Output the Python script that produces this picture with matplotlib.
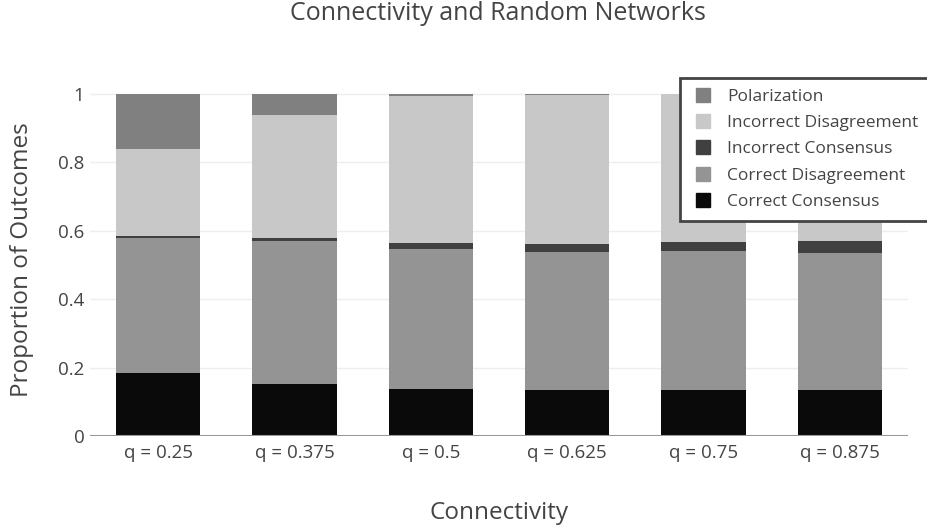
import matplotlib.pyplot as plt
from matplotlib.lines import Line2D
import numpy as np

categories = ["q = 0.25", "q = 0.375", "q = 0.5", "q = 0.625", "q = 0.75", "q = 0.875"]
correct_consensus = [0.185, 0.151, 0.138, 0.134, 0.134, 0.134]
correct_disagreement = [0.395, 0.419, 0.409, 0.405, 0.406, 0.400]
incorrect_consensus = [0.004, 0.008, 0.017, 0.021, 0.027, 0.036]
incorrect_disagreement = [0.256, 0.362, 0.429, 0.438, 0.433, 0.430]
polarization = [0.160, 0.060, 0.007, 0.002, 0.000, 0.000]

series = [
    ("Correct Consensus", correct_consensus, "#0a0a0a"),
    ("Correct Disagreement", correct_disagreement, "#949494"),
    ("Incorrect Consensus", incorrect_consensus, "#404040"),
    ("Incorrect Disagreement", incorrect_disagreement, "#c8c8c8"),
    ("Polarization", polarization, "#808080"),
]

plt.rcParams['font.family'] = ['Open Sans', 'DejaVu Sans']
text_color = "#444444"

W, H = 927, 529
fig = plt.figure(figsize=(W / 100, H / 100), dpi=100)
ax = fig.add_axes([90 / W, 1 - 436 / H, 818 / W, 360 / H])

x = np.arange(len(categories))
bottom = np.zeros(len(categories))
for name, vals, color in series:
    ax.bar(x, vals, width=0.62, bottom=bottom, color=color, label=name)
    bottom += np.array(vals)

ax.set_xlim(-0.5, len(categories) - 0.5)
ax.set_ylim(0, 1.0526)
ax.set_yticks([0, 0.2, 0.4, 0.6, 0.8, 1])
ax.set_yticklabels(["0", "0.2", "0.4", "0.6", "0.8", "1"])
ax.set_xticks(x)
ax.set_xticklabels(categories)
ax.tick_params(axis="both", length=0, labelsize=13.5, colors=text_color)
ax.tick_params(axis="y", pad=4)
ax.tick_params(axis="x", pad=6)
ax.grid(axis="y", color="#eeeeee", linewidth=1)
ax.set_axisbelow(True)
for s in ax.spines.values():
    s.set_visible(False)
ax.axhline(0, color="#999999", linewidth=1.5, zorder=3)

fig.text(22 / W, 1 - 260 / H, "Proportion of Outcomes", rotation=90,
         ha="center", va="center", fontsize=17.5, color=text_color)
fig.text(499 / W, 1 - 513 / H, "Connectivity", ha="center", va="center",
         fontsize=17.5, color=text_color)
fig.text(498 / W, 1 - 14 / H, "Connectivity and Random Networks", ha="center", va="center",
         fontsize=18, color=text_color)

# legend: square markers, top trace first
handles = [Line2D([], [], linestyle="none", marker="s", markersize=9.5,
                  markerfacecolor=c, markeredgecolor=c) for _, _, c in series[::-1]]
labels = [n for n, _, _ in series[::-1]]
leg = ax.legend(handles=handles, labels=labels,
                loc="upper left", bbox_to_anchor=(680 / W, 1 - 78 / H),
                bbox_transform=fig.transFigure, frameon=True, fontsize=12.5,
                handlelength=1.4, handletextpad=0.7,
                labelspacing=0.58, borderpad=0.62, borderaxespad=0,
                fancybox=False, framealpha=1, facecolor="white")
leg.get_frame().set_edgecolor("#444444")
leg.get_frame().set_linewidth(2)
for t in leg.get_texts():
    t.set_color(text_color)

fig.savefig("out.png", dpi=100)
